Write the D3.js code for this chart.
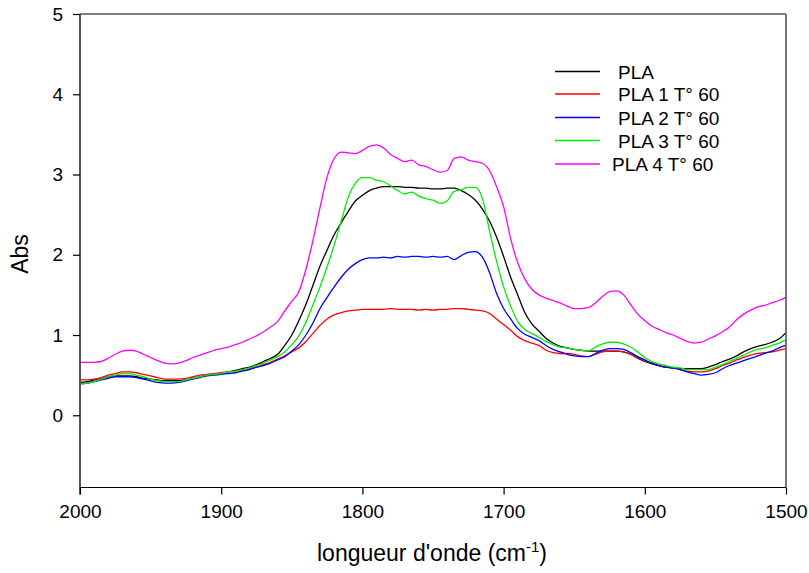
<!DOCTYPE html>
<html>
<head>
<meta charset="utf-8">
<script src="https://cdn.jsdelivr.net/npm/d3@7"></script>
<style>
    body { margin: 0; background: #fff; }
    svg text { font-family: Arial, "Liberation Sans", sans-serif; fill: #000; }
    .series { fill: none; stroke-width: 1.3; }
</style>
</head>
<body>
<script>
// wavenumbers (cm-1), step 5
var wavenumbers = d3.range(2000, 1499, -5);

var seriesNames = ['PLA', 'PLA 1 T° 60', 'PLA 2 T° 60', 'PLA 3 T° 60', 'PLA 4 T° 60'];
var seriesColors = ['#000000', '#ff0000', '#0000ff', '#00ee00', '#ff00ff'];

var pla = [0.41, 0.42, 0.44, 0.46, 0.48, 0.49, 0.49, 0.49, 0.48, 0.46,
    0.45, 0.44, 0.43, 0.43, 0.43, 0.44, 0.46, 0.48, 0.50, 0.51,
    0.52, 0.54, 0.56, 0.58, 0.60, 0.63, 0.67, 0.71, 0.76, 0.87,
    1.00, 1.18, 1.38, 1.62, 1.86, 2.06, 2.25, 2.40, 2.54, 2.67,
    2.74, 2.80, 2.83, 2.85, 2.85, 2.85, 2.84, 2.84, 2.83, 2.83,
    2.82, 2.82, 2.83, 2.83, 2.80, 2.75, 2.68, 2.57, 2.42, 2.22,
    1.98, 1.72, 1.50, 1.28, 1.14, 1.05, 0.96, 0.90, 0.86, 0.84,
    0.82, 0.81, 0.80, 0.80, 0.80, 0.80, 0.80, 0.79, 0.76, 0.71,
    0.67, 0.64, 0.62, 0.60, 0.59, 0.58, 0.58, 0.58, 0.58, 0.60,
    0.63, 0.67, 0.70, 0.74, 0.79, 0.83, 0.86, 0.88, 0.91, 0.95,
    1.03];

var pla1 = [0.44, 0.44, 0.45, 0.47, 0.50, 0.52, 0.54, 0.54, 0.53, 0.51,
    0.49, 0.47, 0.45, 0.45, 0.45, 0.46, 0.48, 0.50, 0.51, 0.52,
    0.53, 0.54, 0.55, 0.56, 0.58, 0.60, 0.63, 0.66, 0.70, 0.74,
    0.79, 0.84, 0.92, 1.02, 1.12, 1.20, 1.25, 1.28, 1.30, 1.31,
    1.32, 1.32, 1.32, 1.32, 1.33, 1.32, 1.32, 1.32, 1.31, 1.32,
    1.31, 1.32, 1.32, 1.33, 1.33, 1.32, 1.31, 1.30, 1.27, 1.20,
    1.13, 1.06, 0.98, 0.93, 0.90, 0.87, 0.81, 0.78, 0.77, 0.77,
    0.76, 0.74, 0.73, 0.76, 0.79, 0.80, 0.80, 0.79, 0.76, 0.72,
    0.68, 0.65, 0.62, 0.60, 0.59, 0.57, 0.55, 0.54, 0.54, 0.55,
    0.58, 0.62, 0.65, 0.69, 0.72, 0.75, 0.77, 0.78, 0.79, 0.81,
    0.83];

var pla2 = [0.39, 0.40, 0.42, 0.44, 0.46, 0.48, 0.48, 0.48, 0.47, 0.45,
    0.43, 0.41, 0.40, 0.40, 0.41, 0.43, 0.45, 0.47, 0.49, 0.50,
    0.51, 0.52, 0.53, 0.55, 0.57, 0.60, 0.62, 0.65, 0.69, 0.73,
    0.80, 0.88, 1.00, 1.15, 1.33, 1.47, 1.60, 1.72, 1.82, 1.89,
    1.94, 1.96, 1.96, 1.97, 1.96, 1.98, 1.97, 1.98, 1.98, 1.97,
    1.98, 1.97, 1.98, 1.94, 1.99, 2.03, 2.04, 1.97, 1.78, 1.52,
    1.33, 1.20, 1.08, 1.01, 0.97, 0.93, 0.87, 0.82, 0.79, 0.76,
    0.74, 0.73, 0.73, 0.77, 0.81, 0.83, 0.83, 0.82, 0.78, 0.73,
    0.69, 0.65, 0.62, 0.60, 0.59, 0.57, 0.54, 0.52, 0.50, 0.51,
    0.53, 0.58, 0.62, 0.65, 0.68, 0.71, 0.74, 0.77, 0.80, 0.84,
    0.87];

var pla3 = [0.39, 0.40, 0.42, 0.45, 0.48, 0.50, 0.52, 0.52, 0.50, 0.48,
    0.45, 0.43, 0.42, 0.42, 0.42, 0.44, 0.46, 0.48, 0.50, 0.51,
    0.52, 0.54, 0.55, 0.57, 0.59, 0.62, 0.65, 0.69, 0.73, 0.79,
    0.88, 0.99, 1.16, 1.38, 1.60, 1.85, 2.12, 2.42, 2.72, 2.89,
    2.96, 2.96, 2.93, 2.91, 2.86, 2.80, 2.76, 2.78, 2.73, 2.70,
    2.68, 2.64, 2.67, 2.79, 2.81, 2.84, 2.84, 2.70, 2.30, 1.92,
    1.60, 1.36, 1.17, 1.07, 1.02, 0.97, 0.92, 0.88, 0.85, 0.84,
    0.82, 0.81, 0.80, 0.85, 0.89, 0.91, 0.91, 0.89, 0.85, 0.79,
    0.72, 0.67, 0.64, 0.62, 0.60, 0.59, 0.57, 0.57, 0.57, 0.57,
    0.60, 0.63, 0.67, 0.71, 0.75, 0.79, 0.82, 0.84, 0.87, 0.90,
    0.94];

var pla4 = [0.66, 0.66, 0.66, 0.67, 0.71, 0.76, 0.80, 0.81, 0.80, 0.76,
    0.72, 0.68, 0.65, 0.64, 0.65, 0.68, 0.72, 0.75, 0.78, 0.81,
    0.83, 0.85, 0.88, 0.91, 0.95, 0.99, 1.04, 1.10, 1.17, 1.30,
    1.42, 1.54, 1.82, 2.18, 2.59, 2.97, 3.20, 3.28, 3.27, 3.26,
    3.30, 3.35, 3.37, 3.33, 3.25, 3.20, 3.16, 3.18, 3.12, 3.10,
    3.06, 3.03, 3.05, 3.20, 3.22, 3.18, 3.16, 3.14, 3.05, 2.85,
    2.60, 2.20, 1.90, 1.70, 1.57, 1.50, 1.46, 1.43, 1.40, 1.36,
    1.33, 1.33, 1.34, 1.40, 1.48, 1.54, 1.55, 1.50, 1.38, 1.26,
    1.18, 1.11, 1.07, 1.03, 1.00, 0.96, 0.92, 0.90, 0.91, 0.95,
    0.99, 1.04, 1.10, 1.19, 1.26, 1.31, 1.35, 1.37, 1.40, 1.43,
    1.47];

var xTicks = [2000, 1900, 1800, 1700, 1600, 1500];
var yTicks = [0, 1, 2, 3, 4, 5];

var svgWidth = 809,
    svgHeight = 573,
    plot = { left: 80, right: 786, top: 14, bottom: 487.5 };

var svg = d3.select('body').append('svg')
    .attr('width', svgWidth)
    .attr('height', svgHeight);

var x = d3.scaleLinear().domain([2000, 1500]).range([plot.left, plot.right]);
var y = d3.scaleLinear().domain([-0.9, 5]).range([plot.bottom, plot.top]);

var allSeries = [pla, pla1, pla2, pla3, pla4];

// curves, drawn first so the frame sits on top
var line = d3.line()
    .x(function (d, i) { return x(wavenumbers[i]); })
    .y(function (d) { return y(d); })
    .curve(d3.curveMonotoneX);

allSeries.forEach(function (values, idx) {
    svg.append('path')
        .attr('class', 'series')
        .attr('stroke', seriesColors[idx])
        .attr('d', line(values));
});

// frame: top and bottom lines
svg.append('line')
    .attr('x1', plot.left).attr('x2', plot.right)
    .attr('y1', plot.top).attr('y2', plot.top)
    .attr('stroke', '#000').attr('stroke-width', 1.2);
svg.append('line')
    .attr('x1', plot.left).attr('x2', plot.right)
    .attr('y1', plot.bottom).attr('y2', plot.bottom)
    .attr('stroke', '#000').attr('stroke-width', 1.2);

// left axis
var yAxis = d3.axisLeft(y).tickValues(yTicks).tickSize(7).tickPadding(10).tickSizeOuter(0)
    .tickFormat(d3.format('d'));
var yAxisG = svg.append('g')
    .attr('transform', 'translate(' + plot.left + ',0)')
    .call(yAxis);
yAxisG.select('.domain').attr('stroke', '#555').attr('stroke-width', 2)
    .attr('d', 'M0,' + plot.top + 'V' + (plot.bottom + 7));
yAxisG.selectAll('.tick line').attr('stroke', '#000').attr('stroke-width', 1.2);
yAxisG.selectAll('.tick text').attr('font-size', 19).attr('font-family', null);

// right edge
svg.append('line')
    .attr('x1', plot.right).attr('x2', plot.right)
    .attr('y1', plot.top).attr('y2', plot.bottom)
    .attr('stroke', '#555').attr('stroke-width', 1.6);

// bottom axis
var xAxis = d3.axisBottom(x).tickValues(xTicks).tickSize(7).tickPadding(10).tickSizeOuter(0)
    .tickFormat(d3.format('d'));
var xAxisG = svg.append('g')
    .attr('transform', 'translate(0,' + plot.bottom + ')')
    .call(xAxis);
xAxisG.select('.domain').remove();
xAxisG.selectAll('.tick line').attr('stroke', '#000').attr('stroke-width', 1.2);
xAxisG.selectAll('.tick text').attr('font-size', 19).attr('font-family', null);

// axis titles
svg.append('text')
    .attr('transform', 'translate(28,' + 254 + ') rotate(-90)')
    .attr('text-anchor', 'middle')
    .attr('font-size', 23)
    .text('Abs');

var xTitle = svg.append('text')
    .attr('x', 432)
    .attr('y', 561)
    .attr('text-anchor', 'middle')
    .attr('font-size', 23);
xTitle.append('tspan').text("longueur d'onde (cm");
xTitle.append('tspan').attr('dy', -9).attr('font-size', 15).text('-1');
xTitle.append('tspan').attr('dy', 9).text(')');

// legend
var legendRows = [71.5, 94, 117.5, 140.5, 164];
var legendTextX = [618, 618, 618, 618, 612];
seriesNames.forEach(function (name, idx) {
    svg.append('line')
        .attr('x1', 555).attr('x2', 600)
        .attr('y1', legendRows[idx]).attr('y2', legendRows[idx])
        .attr('stroke', seriesColors[idx]).attr('stroke-width', 1.3);
    svg.append('text')
        .attr('x', legendTextX[idx])
        .attr('y', legendRows[idx] + 7)
        .attr('font-size', 19)
        .text(name);
});
</script>
</body>
</html>
